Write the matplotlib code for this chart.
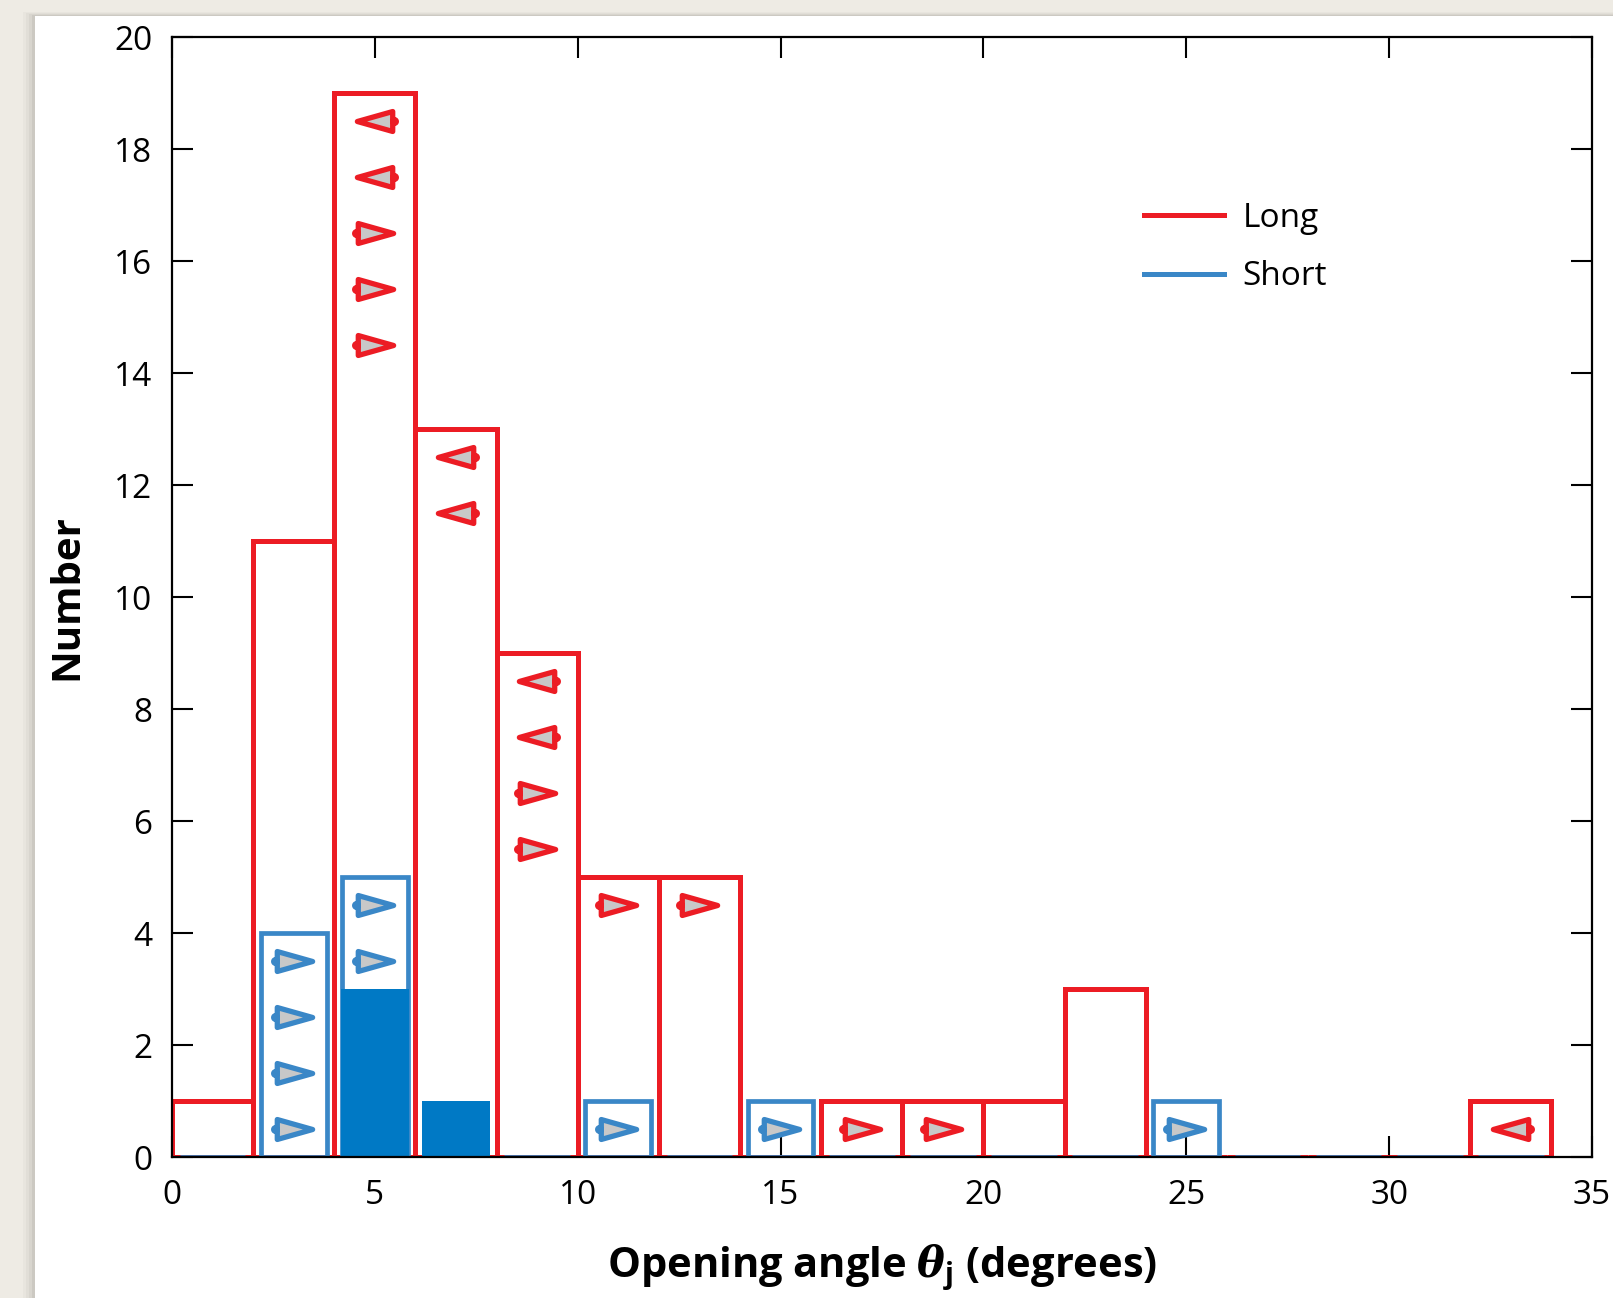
import matplotlib
matplotlib.use("Agg")
import matplotlib.pyplot as plt
from matplotlib.path import Path
from matplotlib.patches import Rectangle
import numpy as np

plt.rcParams['font.family'] = ['Open Sans', 'DejaVu Sans']
plt.rcParams['mathtext.fontset'] = 'custom'
plt.rcParams['mathtext.it'] = 'DejaVu Serif:italic:bold'
plt.rcParams['mathtext.rm'] = 'Open Sans:bold'

# histogram data (2-degree bins from 0 to 34)
bin_left = np.arange(0, 34, 2)
long_counts = [1, 11, 19, 13, 9, 5, 5, 0, 1, 1, 1, 3, 0, 0, 0, 0, 1]
short_counts = [0, 4, 5, 0, 0, 1, 0, 1, 0, 0, 0, 0, 1, 0, 0, 0, 0]
short_filled = [0, 0, 3, 1, 0, 0, 0, 0, 0, 0, 0, 0, 0, 0, 0, 0, 0]

# limit markers: x, y, direction (+1 right, -1 left)
long_mx = [5, 5, 5, 5, 5, 7, 7, 9, 9, 9, 9, 11, 13, 17, 19, 33]
long_my = [18.5, 17.5, 16.5, 15.5, 14.5, 12.5, 11.5, 8.5, 7.5, 6.5, 5.5, 4.5, 4.5, 0.5, 0.5, 0.5]
long_dir = [-1, -1, 1, 1, 1, -1, -1, -1, -1, 1, 1, 1, 1, 1, 1, -1]
short_mx = [3, 3, 3, 3, 5, 5, 11, 15, 25]
short_my = [3.5, 2.5, 1.5, 0.5, 4.5, 3.5, 0.5, 0.5, 0.5]
short_dir = [1, 1, 1, 1, 1, 1, 1, 1, 1]

RED = '#ec1c24'
BLUE = '#3a87c7'
FILL = '#0079c5'
GRAY = '#c8c8c8'


def arrow_marker(direction):
    tri = Path([(1, 0), (-0.95, 0.55), (-0.95, -0.55), (1, 0)],
               [Path.MOVETO, Path.LINETO, Path.LINETO, Path.CLOSEPOLY])
    dot = Path.circle((-1.05, 0), 0.1)
    p = Path.make_compound_path(tri, dot)
    if direction < 0:
        p = Path(p.vertices * np.array([-1, 1]), p.codes)
    return p


fig = plt.figure(figsize=(16.13, 12.98), dpi=100, facecolor='#eeebe4')
# white page with a soft shadow
for i, a in enumerate([0.05, 0.07, 0.1, 0.14]):
    off = (4 - i) * 3
    fig.patches.append(Rectangle(((35 - off) / 1613, 0), 1, (1298 - 16 + off * 0.3) / 1298,
                                 transform=fig.transFigure, facecolor='#8a877f',
                                 alpha=a, edgecolor='none', zorder=-10))
fig.patches.append(Rectangle((35 / 1613, 0), 1, (1298 - 16) / 1298,
                             transform=fig.transFigure, facecolor='white',
                             edgecolor='none', zorder=-9))

ax = fig.add_axes([172 / 1613, 1 - 1157 / 1298, (1592 - 172) / 1613, (1157 - 37) / 1298])
ax.set_facecolor('none')

ax.bar(bin_left, long_counts, width=2, align='edge', fill=False,
       edgecolor=RED, linewidth=3.6, zorder=2)
ax.bar(bin_left + 1, short_counts, width=1.62, align='center', fill=False,
       edgecolor=BLUE, linewidth=3.4, zorder=3)
ax.bar(bin_left + 1, short_filled, width=1.66, align='center', color=FILL,
       linewidth=0, zorder=4)

for xs, ys, ds, col in [(long_mx, long_my, long_dir, RED),
                        (short_mx, short_my, short_dir, BLUE)]:
    for x, y, d in zip(xs, ys, ds):
        ax.plot(x, y, linestyle='none', marker=arrow_marker(d), markersize=30,
                markerfacecolor=GRAY, markeredgecolor=col, markeredgewidth=3.8,
                zorder=5)

ax.set_xlim(0, 35)
ax.set_ylim(0, 20)
ax.set_xticks(np.arange(0, 36, 5))
ax.set_yticks(np.arange(0, 21, 2))
ax.tick_params(direction='in', length=15, width=1.5, labelsize=24,
               top=True, right=True, color='black')
ax.tick_params(axis='x', pad=16)
ax.tick_params(axis='y', pad=14)
for s in ax.spines.values():
    s.set_linewidth(1.6)
    s.set_zorder(6)

ax.set_xlabel(r'Opening angle $\theta_{\mathrm{j}}$ (degrees)', fontsize=30,
              fontweight='bold', labelpad=22)
ax.set_ylabel('Number', fontsize=29, fontweight='bold', labelpad=20)

ax.plot([], [], color=RED, linewidth=3.6, label='Long')
ax.plot([], [], color=BLUE, linewidth=3.6, label='Short')
ax.legend(loc='upper left', bbox_to_anchor=(0.6845, 0.853), frameon=False,
          fontsize=24, handlelength=2.4, handletextpad=0.55, labelspacing=0.77,
          borderpad=0, borderaxespad=0)

fig.savefig('out.png', dpi=100, facecolor=fig.get_facecolor())
